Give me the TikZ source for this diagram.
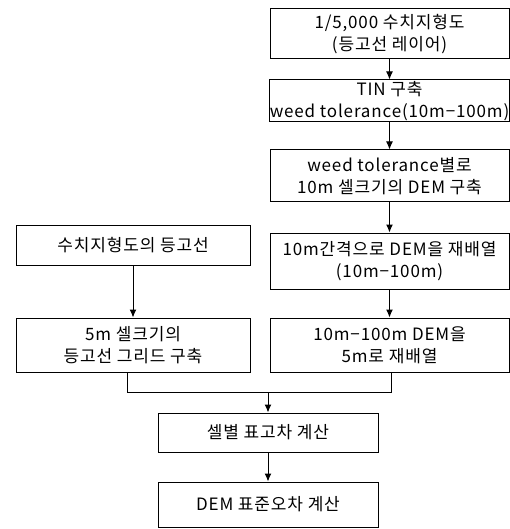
\documentclass[tikz,border=0pt]{standalone}
\usepackage{fontspec}
\setmainfont{Noto Sans CJK KR}[LetterSpace=5]
\usetikzlibrary{arrows.meta}
\begin{document}
\begin{tikzpicture}[x=1pt,y=-1pt,
  box/.style={draw=black, line width=1pt, inner sep=0pt, align=center,
    font=\fontsize{17}{22}\selectfont},
  rbox/.style={box, minimum width=239pt},
  lbox/.style={box, minimum width=234pt},
  bbox/.style={box, minimum width=220pt},
  arr/.style={line width=1pt, -{Latex[length=8pt,width=7pt]}},
  ln/.style={line width=1pt}]
\useasboundingbox (0,0) rectangle (510,529);
% right column
\node[rbox, minimum height=50pt] (r1) at (389.5,34) {1/5,000 수치지형도\\(등고선 레이어)};
\node[rbox, minimum height=42pt] (r2) at (389.5,101) {TIN 구축\\weed tolerance(10m−100m)};
\node[rbox, minimum height=52pt] (r3) at (389.5,176) {weed tolerance별로\\10m 셀크기의 DEM 구축};
\node[rbox, minimum height=56pt] (r4) at (389.5,261) {10m간격으로 DEM을 재배열\\(10m−100m)};
\node[rbox, minimum height=54pt] (r5) at (389.5,345) {10m−100m DEM을\\5m로 재배열};
% left column
\node[lbox, minimum height=40pt] (l1) at (133,245) {수치지형도의 등고선};
\node[lbox, minimum height=54pt] (l2) at (133,345) {5m 셀크기의\\등고선 그리드 구축};
% bottom
\node[bbox, minimum height=39pt] (b1) at (268,432.5) {셀별 표고차 계산};
\node[bbox, minimum height=45pt] (b2) at (268,504.5) {DEM 표준오차 계산};
% connectors
\draw[arr] (r1) -- (r2);
\draw[arr] (r2) -- (r3);
\draw[arr] (r3) -- (r4);
\draw[arr] (r4) -- (r5);
\draw[arr] (l1) -- (l2);
\coordinate (jl) at (127,392);
\coordinate (jr) at (391,392);
\draw[ln] (l2.south -| jl) -- (jl) -- (jr) -- (r5.south -| jr);
\draw[arr] (b1.north |- jl) -- (b1);
\draw[arr] (b1) -- (b2);
\end{tikzpicture}
\end{document}
